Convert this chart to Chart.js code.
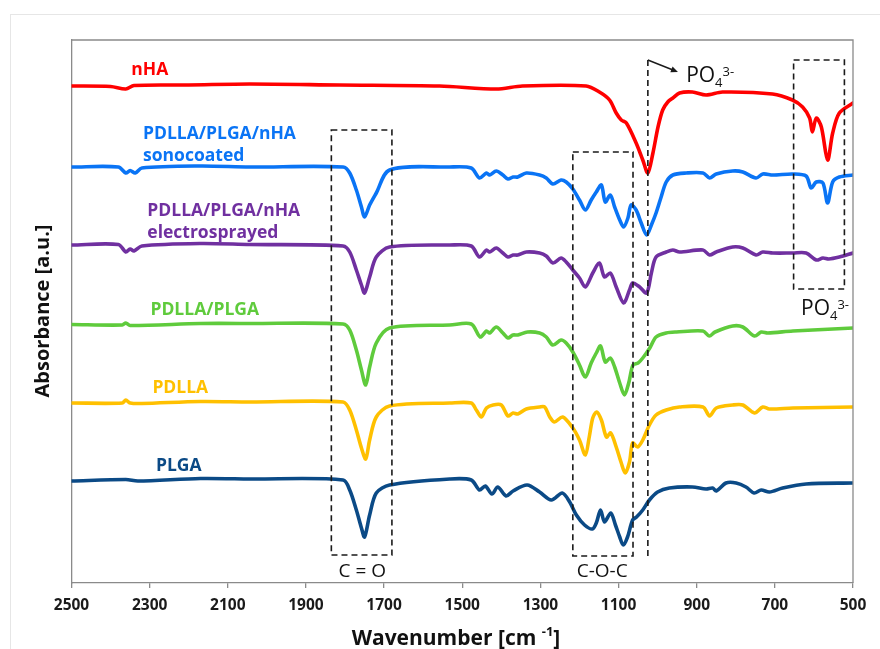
<!DOCTYPE html>
<html>
<head>
<meta charset="utf-8">
<script src="https://cdn.jsdelivr.net/npm/chart.js@4.4.1/dist/chart.umd.min.js"></script>
<style>
  html, body { margin: 0; padding: 0; background: #fff; }
  #wrap { position: relative; width: 880px; height: 649px; overflow: hidden; }
  #frame { position: absolute; left: 10px; top: 14px; width: 900px; height: 700px; border: 1px solid #e6e6e6; }
  #c { position: absolute; left: 0; top: 0; }
</style>
</head>
<body>
<div id="wrap"><div id="frame"></div><canvas id="c" width="880" height="649"></canvas></div>
<script>
// FTIR spectra, wavenumber [cm-1] vs absorbance (arbitrary, offset per sample)
const nhaWn  = [2500, 2400, 2361, 2340, 2200, 2044, 1814, 1558, 1413, 1346, 1183, 1149, 1123, 1106, 1093, 1080, 1055, 1038, 1025, 1012, 999, 987, 974, 961, 944, 911, 876, 834, 706, 655, 629, 611, 604, 594, 581, 565, 552, 535, 500];
const nhaAbs = [49.7, 49.65, 49.4, 49.75, 49.8, 49.9, 49.8, 49.7, 49.4, 49.7, 49.7, 49.1, 48.3, 47.0, 46.3, 46.0, 44.0, 42.3, 41.0, 43.0, 45.6, 47.3, 48.1, 48.5, 49.0, 49.1, 48.8, 49.1, 48.9, 48.3, 47.6, 46.5, 45.1, 46.5, 45.6, 42.3, 45.0, 47.0, 48.0];

const sonoWn  = [2500, 2380, 2361, 2350, 2337, 2320, 2170, 2044, 1805, 1788, 1771, 1758, 1750, 1737, 1720, 1686, 1532, 1477, 1456, 1438, 1430, 1413, 1396, 1383, 1370, 1358, 1336, 1302, 1285, 1268, 1247, 1234, 1217, 1200, 1185, 1170, 1157, 1144, 1134, 1121, 1110, 1097, 1087, 1076, 1068, 1055, 1042, 1028, 1016, 1004, 991, 978, 961, 927, 884, 867, 850, 808, 782, 748, 731, 705, 654, 620, 607, 594, 577, 565, 552, 535, 500];
const sonoAbs = [41.6, 41.6, 41.0, 41.25, 41.0, 41.5, 41.7, 41.6, 41.6, 41.0, 39.3, 37.6, 36.6, 37.8, 39.0, 41.3, 41.6, 41.5, 40.5, 41.0, 40.8, 41.2, 40.8, 40.4, 40.6, 40.6, 41.0, 40.8, 40.5, 39.9, 40.3, 40.1, 39.4, 38.3, 37.3, 38.3, 39.1, 39.8, 38.1, 38.8, 37.6, 36.3, 35.6, 36.5, 37.8, 37.3, 36.0, 34.8, 35.8, 37.0, 38.6, 40.1, 40.8, 41.0, 41.0, 40.5, 40.9, 41.2, 41.1, 40.5, 40.9, 40.8, 40.9, 40.7, 39.5, 40.1, 40.0, 38.0, 40.1, 40.6, 40.8];

const elecWn  = [2500, 2380, 2361, 2350, 2340, 2320, 2170, 2044, 1805, 1788, 1771, 1758, 1750, 1737, 1720, 1686, 1532, 1477, 1456, 1438, 1430, 1413, 1396, 1383, 1370, 1358, 1336, 1302, 1285, 1268, 1247, 1234, 1217, 1200, 1185, 1166, 1149, 1136, 1121, 1106, 1087, 1072, 1064, 1046, 1028, 1016, 1004, 978, 961, 944, 884, 867, 850, 808, 782, 748, 731, 705, 654, 620, 594, 577, 562, 535, 500];
const elecAbs = [33.8, 33.85, 33.1, 33.4, 33.2, 33.7, 33.95, 33.85, 33.7, 33.1, 31.3, 29.8, 29.0, 30.6, 32.6, 33.6, 33.8, 33.7, 32.6, 33.3, 33.1, 33.5, 33.0, 32.6, 32.8, 32.8, 33.1, 33.0, 32.7, 32.0, 32.5, 32.1, 31.3, 30.5, 29.6, 31.0, 32.0, 30.6, 31.0, 29.6, 28.0, 29.3, 30.0, 29.6, 29.0, 31.0, 32.6, 33.1, 33.3, 33.1, 33.3, 32.8, 33.1, 33.6, 33.5, 32.8, 33.1, 33.0, 33.0, 33.0, 32.3, 32.5, 32.4, 32.6, 33.0];

const blendWn  = [2500, 2370, 2361, 2350, 2170, 2044, 1805, 1788, 1771, 1758, 1747, 1737, 1720, 1686, 1532, 1477, 1454, 1438, 1430, 1413, 1396, 1383, 1370, 1358, 1333, 1302, 1285, 1268, 1247, 1234, 1217, 1200, 1185, 1170, 1157, 1146, 1134, 1121, 1110, 1097, 1085, 1074, 1063, 1050, 1038, 1020, 1004, 978, 952, 884, 868, 853, 808, 782, 752, 735, 718, 654, 500];
const blendAbs = [25.85, 25.8, 26.0, 25.75, 25.95, 25.95, 25.9, 25.3, 23.3, 21.3, 19.8, 21.6, 24.0, 25.5, 25.8, 25.9, 24.6, 25.2, 25.0, 25.6, 25.0, 24.5, 24.8, 24.8, 25.1, 25.0, 24.6, 23.8, 24.3, 24.0, 23.1, 21.8, 20.6, 22.0, 23.0, 23.7, 22.1, 22.5, 21.6, 20.0, 18.8, 20.0, 21.8, 22.0, 22.5, 23.5, 24.6, 25.0, 25.1, 25.2, 24.7, 25.1, 25.7, 25.6, 24.7, 25.1, 25.0, 25.2, 25.5];

const pdllaWn  = [2500, 2370, 2361, 2350, 2320, 2170, 2044, 1805, 1788, 1771, 1758, 1747, 1737, 1720, 1686, 1532, 1477, 1464, 1451, 1438, 1421, 1400, 1383, 1370, 1358, 1336, 1302, 1289, 1276, 1264, 1243, 1217, 1200, 1185, 1175, 1166, 1156, 1144, 1131, 1120, 1106, 1093, 1083, 1072, 1064, 1051, 1038, 1021, 1004, 978, 944, 884, 867, 850, 808, 782, 752, 731, 714, 654, 500];
const pdllaAbs = [18.0, 18.0, 18.3, 18.0, 17.95, 18.15, 18.1, 18.1, 17.3, 15.3, 13.5, 12.4, 14.3, 16.6, 17.7, 18.0, 18.0, 17.3, 16.6, 17.5, 17.8, 17.8, 16.7, 17.0, 16.9, 17.4, 17.6, 17.6, 16.6, 16.1, 16.6, 15.5, 14.3, 12.8, 14.6, 16.5, 17.1, 16.3, 14.6, 15.0, 13.6, 12.0, 11.0, 12.1, 14.0, 13.6, 14.3, 15.8, 16.8, 17.3, 17.6, 17.6, 16.7, 17.5, 17.8, 17.8, 17.0, 17.6, 17.4, 17.5, 17.6];

const plgaWn  = [2500, 2361, 2330, 2170, 2044, 1805, 1788, 1771, 1758, 1750, 1737, 1720, 1686, 1532, 1477, 1456, 1441, 1424, 1409, 1388, 1370, 1334, 1302, 1272, 1244, 1225, 1208, 1187, 1167, 1157, 1146, 1136, 1120, 1108, 1097, 1088, 1077, 1064, 1054, 1038, 1021, 1000, 970, 911, 876, 859, 850, 825, 799, 774, 753, 735, 714, 680, 620, 500];
const plgaAbs = [10.2, 10.35, 10.2, 10.45, 10.4, 10.3, 9.3, 7.3, 5.5, 4.6, 6.8, 9.0, 9.8, 10.4, 10.3, 9.3, 9.7, 8.9, 9.6, 8.7, 9.2, 9.8, 9.1, 8.3, 9.0, 8.1, 6.8, 5.8, 5.4, 6.0, 7.3, 6.1, 7.0, 5.8, 4.6, 3.8, 4.6, 6.3, 6.6, 7.3, 8.3, 9.1, 9.5, 9.6, 9.4, 9.5, 9.2, 10.0, 10.0, 9.6, 9.0, 9.3, 9.1, 9.5, 9.9, 10.0];

// marked regions: [wn from, wn to, abs bottom, abs top]
const boxCO  = [1835, 1680, 2.8, 45.3];
const boxCOC = [1217, 1063, 2.7, 43.1];
const boxPO4 = [652, 522, 29.4, 52.3];
const po4Line = [1025, 2.6, 52.3];

const FONT = "'Open Sans', 'DejaVu Sans', sans-serif";

const series = [
  { name: 'nHA', color: '#ff0000', wn: nhaWn, abs: nhaAbs },
  { name: 'PDLLA/PLGA/nHA sonocoated', color: '#0a74f5', wn: sonoWn, abs: sonoAbs },
  { name: 'PDLLA/PLGA/nHA electrosprayed', color: '#7030a0', wn: elecWn, abs: elecAbs },
  { name: 'PDLLA/PLGA', color: '#5fcb3c', wn: blendWn, abs: blendAbs },
  { name: 'PDLLA', color: '#ffc000', wn: pdllaWn, abs: pdllaAbs },
  { name: 'PLGA', color: '#0b4a86', wn: plgaWn, abs: plgaAbs },
];

// curve name tags: text lines, anchor (wn, abs of first baseline)
const tags = [
  { lines: ['nHA'], color: '#ff0000', wn: 2347, abs: 50.8 },
  { lines: ['PDLLA/PLGA/nHA', 'sonocoated'], color: '#0a74f5', wn: 2317, abs: 44.4 },
  { lines: ['PDLLA/PLGA/nHA', 'electrosprayed'], color: '#7030a0', wn: 2306, abs: 36.7 },
  { lines: ['PDLLA/PLGA'], color: '#5fcb3c', wn: 2298, abs: 26.8 },
  { lines: ['PDLLA'], color: '#ffc000', wn: 2293, abs: 19.0 },
  { lines: ['PLGA'], color: '#0b4a86', wn: 2284, abs: 11.2 },
];

function rich(ctx, x, y, parts, center) {
  let total = 0;
  parts.forEach(p => { ctx.font = p.w + ' ' + p.s + 'px ' + FONT; total += ctx.measureText(p.t).width; });
  let cx = center ? x - total / 2 : x;
  ctx.textAlign = 'left';
  ctx.textBaseline = 'alphabetic';
  parts.forEach(p => {
    ctx.font = p.w + ' ' + p.s + 'px ' + FONT;
    ctx.fillText(p.t, cx, y + (p.dy || 0));
    cx += ctx.measureText(p.t).width;
  });
}

const notes = {
  id: 'notes',
  afterDatasetsDraw(chart) {
    const ctx = chart.ctx;
    const xs = chart.scales.x, ys = chart.scales.y;
    const X = v => xs.getPixelForValue(v), Y = v => ys.getPixelForValue(v);
    const area = chart.chartArea;

    // plot frame top/right
    ctx.save();
    ctx.strokeStyle = '#8a8a8a';
    ctx.lineWidth = 1.3;
    ctx.beginPath();
    ctx.moveTo(area.left, area.top);
    ctx.lineTo(area.right, area.top);
    ctx.lineTo(area.right, area.bottom);
    ctx.stroke();

    // dashed regions
    ctx.strokeStyle = '#1a1a1a';
    ctx.lineWidth = 1.6;
    ctx.setLineDash([6, 4]);
    [boxCO, boxCOC, boxPO4].forEach(b => {
      ctx.strokeRect(X(b[0]), Y(b[3]), X(b[1]) - X(b[0]), Y(b[2]) - Y(b[3]));
    });
    ctx.beginPath();
    ctx.moveTo(X(po4Line[0]), Y(po4Line[2]));
    ctx.lineTo(X(po4Line[0]), Y(po4Line[1]));
    ctx.stroke();
    ctx.setLineDash([]);

    // arrow to PO4 label
    const ax0 = X(po4Line[0]), ay0 = Y(po4Line[2]);
    const ax1 = X(948), ay1 = Y(51.1);
    const ang = Math.atan2(ay1 - ay0, ax1 - ax0);
    ctx.lineWidth = 1.4;
    ctx.beginPath();
    ctx.moveTo(ax0, ay0);
    ctx.lineTo(ax1 - 4 * Math.cos(ang), ay1 - 4 * Math.sin(ang));
    ctx.stroke();
    ctx.fillStyle = '#1a1a1a';
    ctx.beginPath();
    ctx.moveTo(ax1, ay1);
    ctx.lineTo(ax1 - 7 * Math.cos(ang) + 3 * Math.sin(ang), ay1 - 7 * Math.sin(ang) - 3 * Math.cos(ang));
    ctx.lineTo(ax1 - 7 * Math.cos(ang) - 3 * Math.sin(ang), ay1 - 7 * Math.sin(ang) + 3 * Math.cos(ang));
    ctx.closePath();
    ctx.fill();

    // region labels
    ctx.fillStyle = '#111';
    const po4 = [
      { t: 'PO', s: 21, w: 'normal' },
      { t: '4', s: 13, w: 'normal', dy: 4.5 },
      { t: '3-', s: 13, w: 'normal', dy: -6 },
    ];
    rich(ctx, X(927), Y(50.1), po4, false);
    rich(ctx, X(633), Y(26.8), po4, false);
    rich(ctx, X(1756), Y(0.63), [{ t: 'C = O', s: 19, w: 'normal' }], true);
    rich(ctx, X(1142), Y(0.63), [{ t: 'C-O-C', s: 19, w: 'normal' }], true);

    // curve tags
    tags.forEach(tg => {
      ctx.fillStyle = tg.color;
      tg.lines.forEach((ln, i) => {
        rich(ctx, X(tg.wn), Y(tg.abs) + i * 21.5, [{ t: ln, s: 17.5, w: 'bold' }], false);
      });
    });

    // axis titles
    ctx.fillStyle = '#111';
    rich(ctx, 456, 645, [
      { t: 'Wavenumber [cm ', s: 21, w: 'bold' },
      { t: '-1', s: 13, w: 'bold', dy: -9 },
      { t: ']', s: 21, w: 'bold' },
    ], true);
    ctx.translate(43, 311);
    ctx.rotate(-Math.PI / 2);
    ctx.font = 'bold 20px ' + FONT;
    ctx.textAlign = 'center';
    ctx.textBaseline = 'middle';
    ctx.fillText('Absorbance [a.u.]', 0, 0);
    ctx.restore();
  }
};

new Chart(document.getElementById('c').getContext('2d'), {
  type: 'line',
  data: {
    datasets: series.map(s => ({
      label: s.name,
      data: s.wn.map((w, i) => ({ x: w, y: s.abs[i] })),
      borderColor: s.color,
      borderWidth: 3.6,
      borderJoinStyle: 'round',
      borderCapStyle: 'round',
      pointRadius: 0,
      fill: false,
      tension: 0.3,
    }))
  },
  options: {
    responsive: false,
    animation: false,
    devicePixelRatio: 1,
    layout: { padding: { top: 40, right: 27, left: 0, bottom: 0 } },
    plugins: { legend: { display: false }, tooltip: { enabled: false } },
    scales: {
      x: {
        type: 'linear',
        reverse: true,
        min: 500,
        max: 2500,
        ticks: {
          stepSize: 200,
          autoSkip: false,
          maxRotation: 0,
          padding: 8,
          color: '#1a1a1a',
          font: { family: FONT, size: 15.5, weight: 'bold' },
          callback: v => String(v),
        },
        grid: { display: true, drawOnChartArea: false, drawTicks: true, tickLength: 5, color: '#8a8a8a', lineWidth: 1.3 },
        border: { display: true, color: '#8a8a8a', width: 1.3 },
        afterFit(s) { s.height = 66; },
      },
      y: {
        min: 0,
        max: 54.3,
        ticks: { display: false },
        grid: { display: false },
        border: { display: true, color: '#8a8a8a', width: 1.3 },
        afterFit(s) { s.width = 71.5; },
      }
    }
  },
  plugins: [notes]
});
</script>
</body>
</html>
